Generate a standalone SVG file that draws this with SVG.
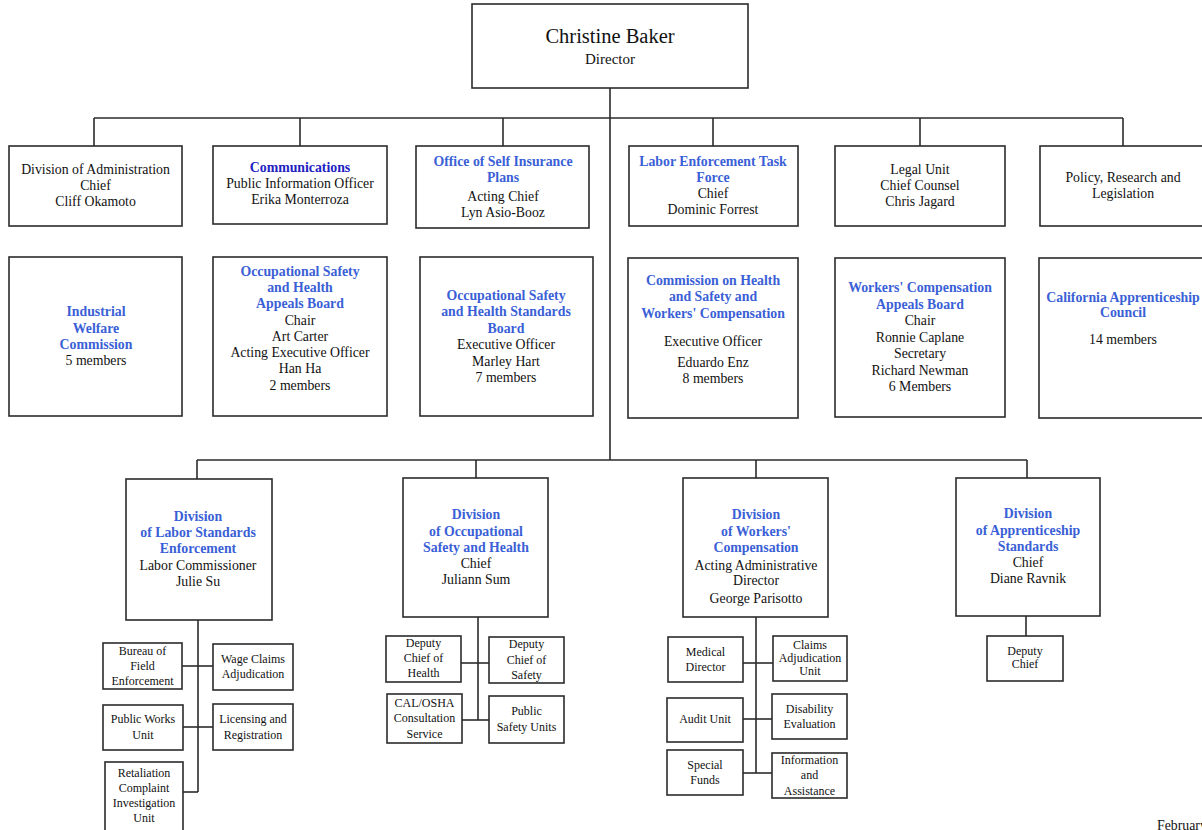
<svg xmlns="http://www.w3.org/2000/svg" width="1202" height="830" viewBox="0 0 1202 830">
<style>
rect.box{fill:#fff;stroke:#2b2b2b;stroke-width:1.6}
.c line,.c polyline{stroke:#2b2b2b;stroke-width:1.6;fill:none}
text{font-family:"Liberation Serif","Times New Roman",serif;font-size:13.8px;fill:#111;text-anchor:middle}
text.b{font-weight:bold;fill:#3a5fd6}
text.d{font-weight:bold;fill:#2121c2}
text.s{font-size:12px}
</style>
<rect width="1202" height="830" fill="#fff"/>
<g class="c" id="connectors">
<line x1="610" y1="88" x2="610" y2="460"/>
<line x1="94" y1="118" x2="1123" y2="118"/>
<line x1="94" y1="118" x2="94" y2="146"/>
<line x1="300" y1="118" x2="300" y2="146"/>
<line x1="503" y1="118" x2="503" y2="146"/>
<line x1="713" y1="118" x2="713" y2="146"/>
<line x1="920" y1="118" x2="920" y2="146"/>
<line x1="1123" y1="118" x2="1123" y2="146"/>
<line x1="197" y1="460" x2="1027" y2="460"/>
<line x1="197" y1="460" x2="197" y2="479"/>
<line x1="476" y1="460" x2="476" y2="478"/>
<line x1="756" y1="460" x2="756" y2="478"/>
<line x1="1027" y1="460" x2="1027" y2="478"/>
<line x1="198" y1="620" x2="198" y2="792"/>
<line x1="182" y1="666" x2="213" y2="666"/>
<line x1="183" y1="727" x2="213" y2="727"/>
<line x1="183" y1="792" x2="198" y2="792"/>
<line x1="478" y1="617" x2="478" y2="720"/>
<line x1="461" y1="663" x2="489" y2="663"/>
<line x1="462" y1="720" x2="489" y2="720"/>
<line x1="756" y1="617" x2="756" y2="773"/>
<line x1="743" y1="663" x2="773" y2="663"/>
<line x1="743" y1="719" x2="772" y2="719"/>
<line x1="743" y1="773" x2="772" y2="773"/>
<line x1="1026" y1="616" x2="1026" y2="636"/>
</g>
<g id="director"><rect class="box" x="472" y="4" width="276" height="84"/>
<text x="610" y="43" style="font-size:20.5px">Christine Baker</text>
<text x="610" y="64" style="font-size:15px">Director</text></g>

<g id="admin"><rect class="box" x="9" y="146" width="173" height="80"/>
<text x="95.5" y="174">Division of Administration</text><text x="95.5" y="190">Chief</text><text x="95.5" y="206">Cliff Okamoto</text></g>
<g id="comm"><rect class="box" x="213" y="146" width="174" height="78"/>
<text class="d" x="300" y="172">Communications</text><text x="300" y="188">Public Information Officer</text><text x="300" y="204">Erika Monterroza</text></g>
<g id="selfins"><rect class="box" x="416" y="146" width="173" height="82"/>
<text class="b" x="503" y="166">Office of Self Insurance</text><text class="b" x="503" y="182">Plans</text><text x="503" y="201">Acting Chief</text><text x="503" y="217">Lyn Asio-Booz</text></g>
<g id="letf"><rect class="box" x="629" y="146" width="169" height="80"/>
<text class="b" x="713" y="166">Labor Enforcement Task</text><text class="b" x="713" y="182">Force</text><text x="713" y="198">Chief</text><text x="713" y="214">Dominic Forrest</text></g>
<g id="legal"><rect class="box" x="835" y="146" width="170" height="80"/>
<text x="920" y="174">Legal Unit</text><text x="920" y="190">Chief Counsel</text><text x="920" y="206">Chris Jagard</text></g>
<g id="policy"><rect class="box" x="1040" y="146" width="166" height="80"/>
<text x="1123" y="182">Policy, Research and</text><text x="1123" y="198">Legislation</text></g>

<g id="iwc"><rect class="box" x="9" y="257" width="173" height="159"/>
<text class="b" x="96" y="316">Industrial</text><text class="b" x="96" y="333">Welfare</text><text class="b" x="96" y="349">Commission</text><text x="96" y="365">5 members</text></g>
<g id="oshab"><rect class="box" x="213" y="257" width="174" height="159"/>
<text class="b" x="300" y="276">Occupational Safety</text><text class="b" x="300" y="292">and Health</text><text class="b" x="300" y="308">Appeals Board</text><text x="300" y="325">Chair</text><text x="300" y="341">Art Carter</text><text x="300" y="357">Acting Executive Officer</text><text x="300" y="373">Han Ha</text><text x="300" y="390">2 members</text></g>
<g id="oshsb"><rect class="box" x="420" y="257" width="173" height="159"/>
<text class="b" x="506" y="300">Occupational Safety</text><text class="b" x="506" y="316">and Health Standards</text><text class="b" x="506" y="333">Board</text><text x="506" y="349">Executive Officer</text><text x="506" y="366">Marley Hart</text><text x="506" y="382">7 members</text></g>
<g id="chswc"><rect class="box" x="628" y="258" width="170" height="160"/>
<text class="b" x="713" y="285">Commission on Health</text><text class="b" x="713" y="301">and Safety and</text><text class="b" x="713" y="318">Workers' Compensation</text><text x="713" y="346">Executive Officer</text><text x="713" y="367">Eduardo Enz</text><text x="713" y="383">8 members</text></g>
<g id="wcab"><rect class="box" x="835" y="258" width="170" height="159"/>
<text class="b" x="920" y="292">Workers' Compensation</text><text class="b" x="920" y="309">Appeals Board</text><text x="920" y="325">Chair</text><text x="920" y="342">Ronnie Caplane</text><text x="920" y="358">Secretary</text><text x="920" y="375">Richard Newman</text><text x="920" y="391">6 Members</text></g>
<g id="cac"><rect class="box" x="1039" y="258" width="167" height="160"/>
<text class="b" x="1123" y="302">California Apprenticeship</text><text class="b" x="1123" y="317">Council</text><text x="1123" y="344">14 members</text></g>

<g id="dlse"><rect class="box" x="126" y="479" width="146" height="141"/>
<text class="b" x="198" y="521">Division</text><text class="b" x="198" y="537">of Labor Standards</text><text class="b" x="198" y="553">Enforcement</text><text x="198" y="570">Labor Commissioner</text><text x="198" y="586">Julie Su</text></g>
<g id="bfe"><rect class="box" x="103" y="643" width="79" height="46"/>
<text class="s" x="142.5" y="655">Bureau of</text><text class="s" x="142.5" y="670">Field</text><text class="s" x="142.5" y="685">Enforcement</text></g>
<g id="wca"><rect class="box" x="213" y="644" width="80" height="46"/>
<text class="s" x="253" y="663">Wage Claims</text><text class="s" x="253" y="678">Adjudication</text></g>
<g id="pwu"><rect class="box" x="103" y="705" width="80" height="45"/>
<text class="s" x="143" y="723">Public Works</text><text class="s" x="143" y="739">Unit</text></g>
<g id="lic"><rect class="box" x="213" y="704" width="80" height="46"/>
<text class="s" x="253" y="723">Licensing and</text><text class="s" x="253" y="739">Registration</text></g>
<g id="rciu"><rect class="box" x="105" y="762" width="78" height="74"/>
<text class="s" x="144" y="777">Retaliation</text><text class="s" x="144" y="792">Complaint</text><text class="s" x="144" y="807">Investigation</text><text class="s" x="144" y="822">Unit</text></g>

<g id="dosh"><rect class="box" x="403" y="478" width="145" height="139"/>
<text class="b" x="476" y="519">Division</text><text class="b" x="476" y="536">of Occupational</text><text class="b" x="476" y="552">Safety and Health</text><text x="476" y="568">Chief</text><text x="476" y="584">Juliann Sum</text></g>
<g id="dch"><rect class="box" x="386" y="636" width="75" height="46"/>
<text class="s" x="423.5" y="647">Deputy</text><text class="s" x="423.5" y="662">Chief of</text><text class="s" x="423.5" y="677">Health</text></g>
<g id="dcs"><rect class="box" x="489" y="637" width="75" height="46"/>
<text class="s" x="526.5" y="648">Deputy</text><text class="s" x="526.5" y="664">Chief of</text><text class="s" x="526.5" y="679">Safety</text></g>
<g id="calosha"><rect class="box" x="387" y="694" width="75" height="49"/>
<text class="s" x="424.5" y="707">CAL/OSHA</text><text class="s" x="424.5" y="722">Consultation</text><text class="s" x="424.5" y="738">Service</text></g>
<g id="psu"><rect class="box" x="489" y="696" width="75" height="47"/>
<text class="s" x="526.5" y="715">Public</text><text class="s" x="526.5" y="731">Safety Units</text></g>

<g id="dwc"><rect class="box" x="683" y="478" width="145" height="139"/>
<text class="b" x="756" y="519">Division</text><text class="b" x="756" y="536">of  Workers'</text><text class="b" x="756" y="552">Compensation</text><text x="756" y="570">Acting Administrative</text><text x="756" y="585">Director</text><text x="756" y="603">George Parisotto</text></g>
<g id="md"><rect class="box" x="668" y="637" width="75" height="45"/>
<text class="s" x="705.5" y="656">Medical</text><text class="s" x="705.5" y="671">Director</text></g>
<g id="cau"><rect class="box" x="773" y="636" width="74" height="45"/>
<text class="s" x="810" y="649">Claims</text><text class="s" x="810" y="662">Adjudication</text><text class="s" x="810" y="675">Unit</text></g>
<g id="audit"><rect class="box" x="667" y="698" width="76" height="44"/>
<text class="s" x="705" y="723">Audit Unit</text></g>
<g id="de"><rect class="box" x="772" y="694" width="75" height="45"/>
<text class="s" x="809.5" y="713">Disability</text><text class="s" x="809.5" y="728">Evaluation</text></g>
<g id="sf"><rect class="box" x="667" y="750" width="76" height="45"/>
<text class="s" x="705" y="769">Special</text><text class="s" x="705" y="784">Funds</text></g>
<g id="ia"><rect class="box" x="772" y="753" width="75" height="45"/>
<text class="s" x="809.5" y="764">Information</text><text class="s" x="809.5" y="779">and</text><text class="s" x="809.5" y="795">Assistance</text></g>

<g id="das"><rect class="box" x="956" y="478" width="144" height="138"/>
<text class="b" x="1028" y="518">Division</text><text class="b" x="1028" y="535">of Apprenticeship</text><text class="b" x="1028" y="551">Standards</text><text x="1028" y="567">Chief</text><text x="1028" y="583">Diane Ravnik</text></g>
<g id="dasdep"><rect class="box" x="987" y="636" width="76" height="45"/>
<text class="s" x="1025" y="655">Deputy</text><text class="s" x="1025" y="668">Chief</text></g>

<text x="1157" y="830" style="text-anchor:start">February</text>
</svg>
